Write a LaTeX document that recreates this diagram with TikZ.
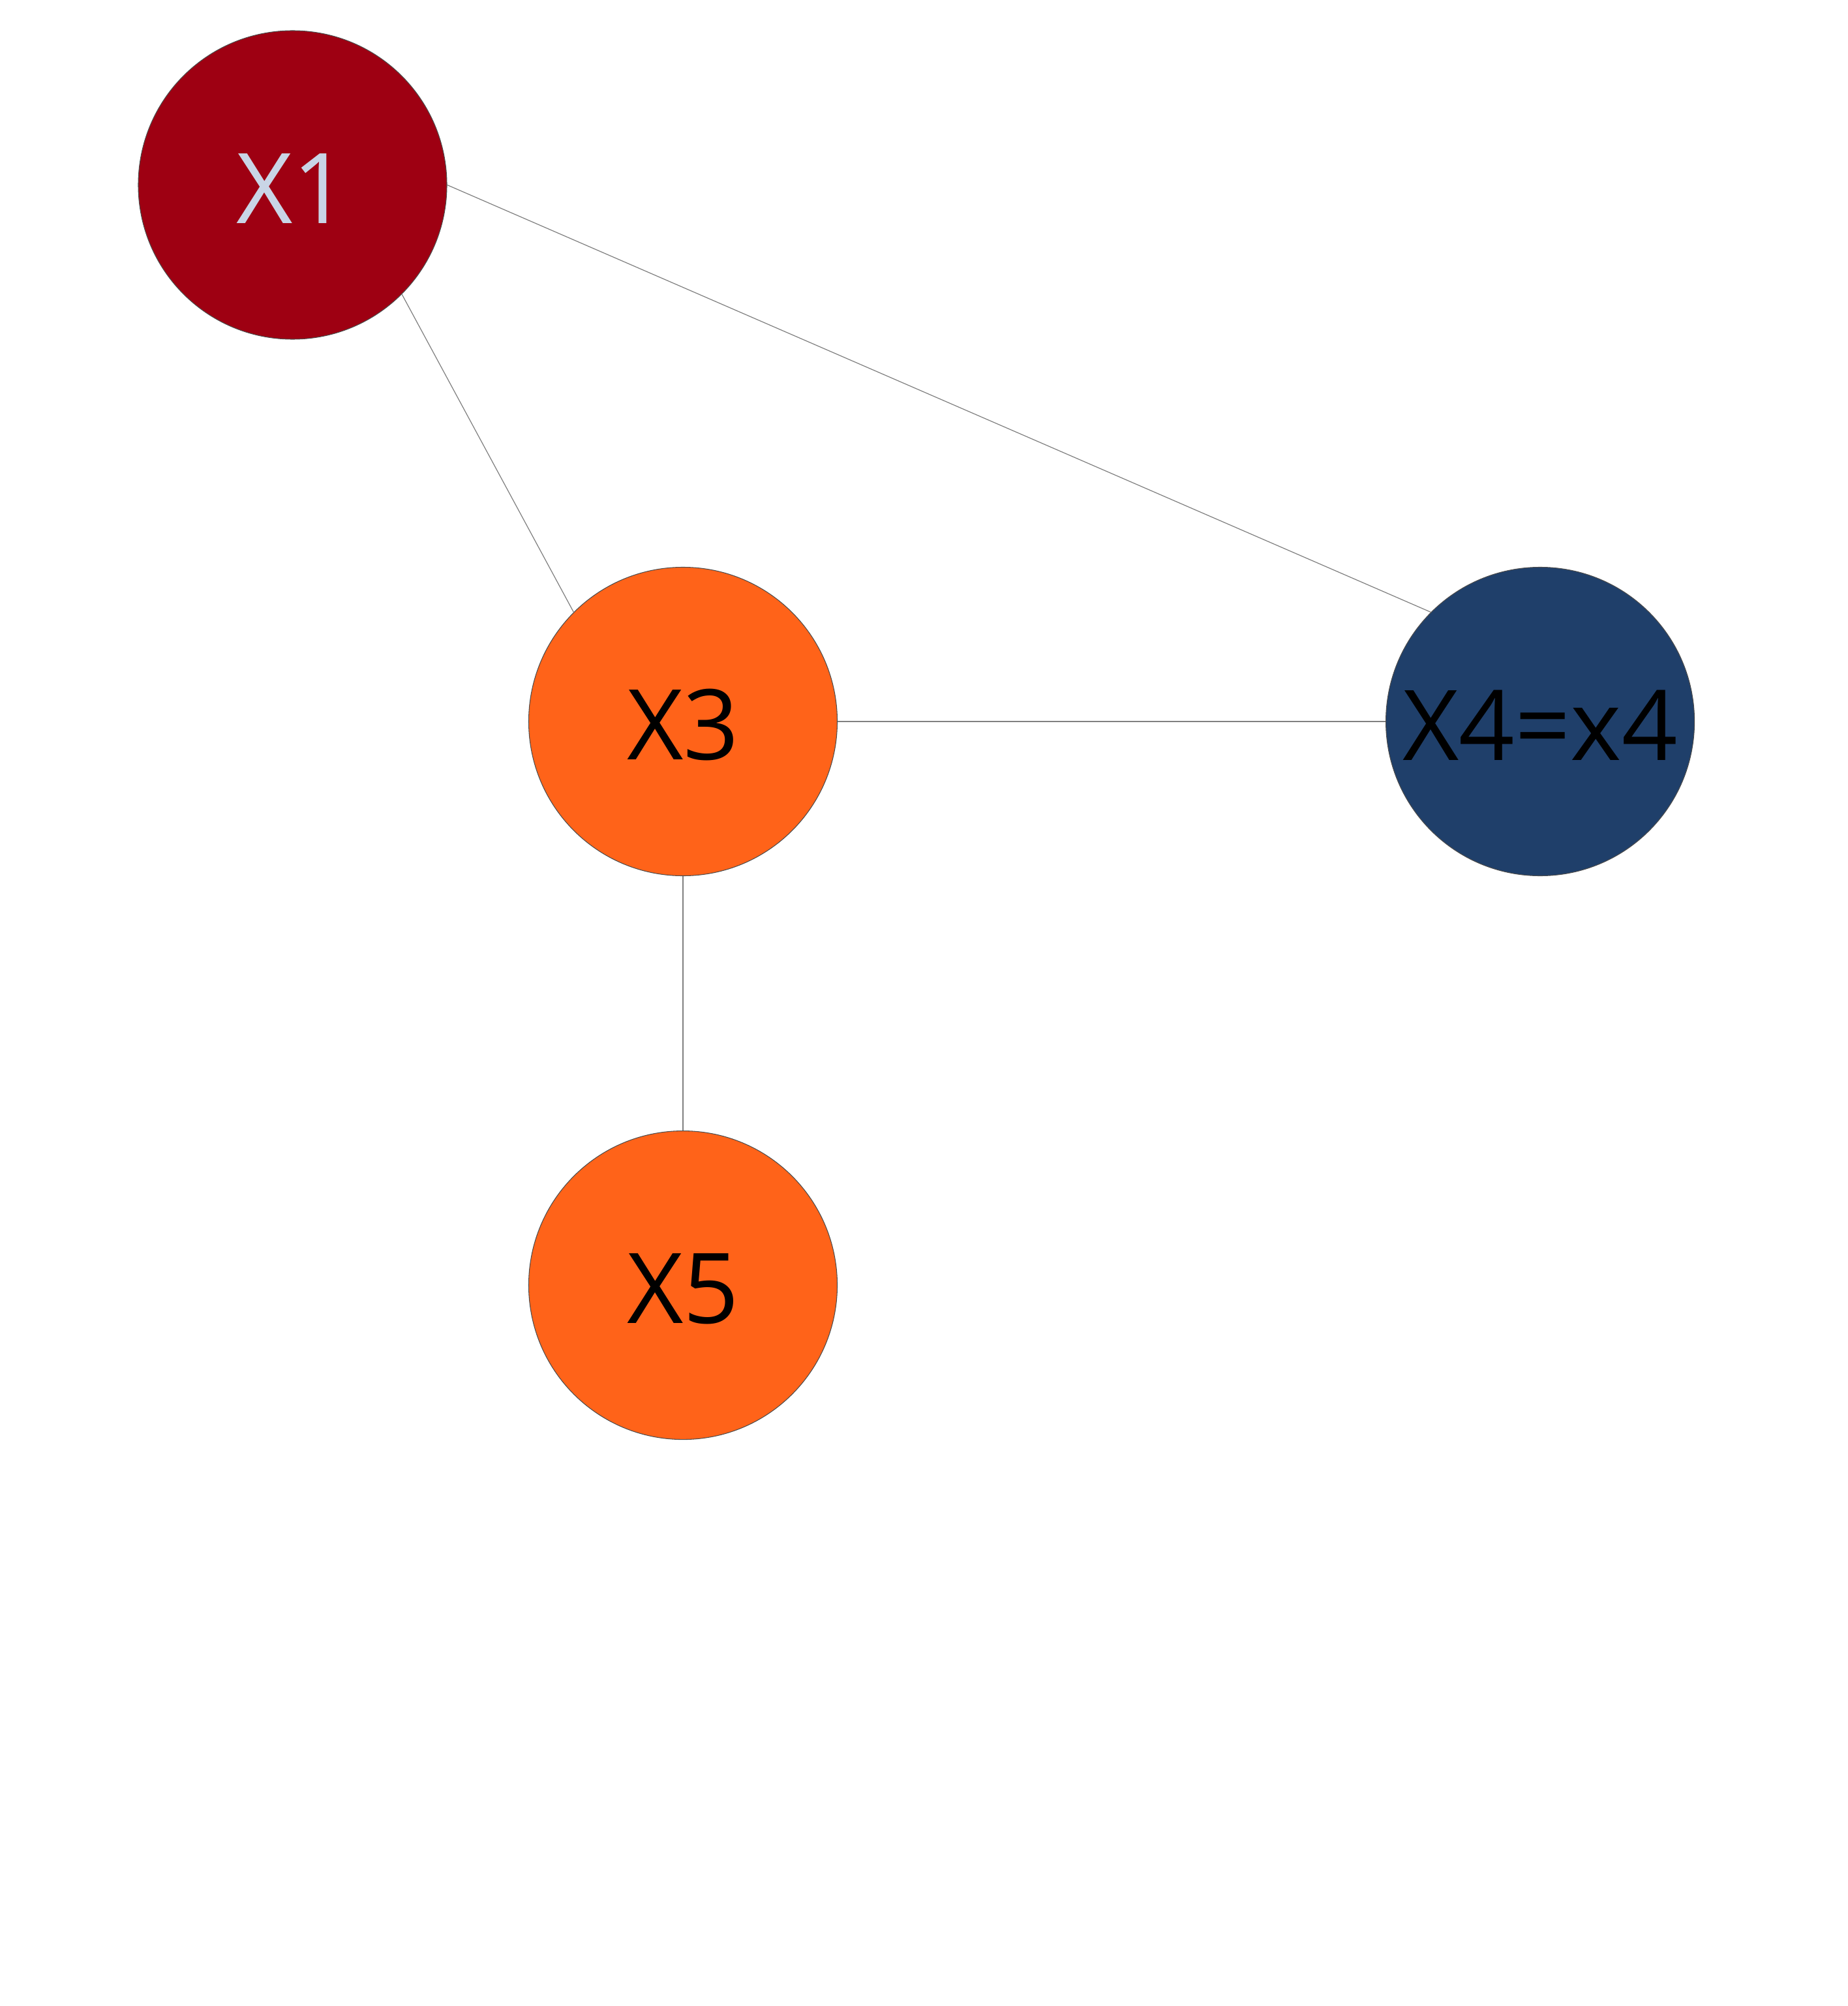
\documentclass[tikz,border=0pt]{standalone}
\usepackage{fontspec}
\setmainfont{Open Sans}
\usepackage{tikz}
\usetikzlibrary{positioning}

\definecolor{evidred}{HTML}{9E0012}
\definecolor{hiddenorange}{HTML}{FF6319}
\definecolor{obsblue}{HTML}{1F3F6A}
\definecolor{paletext}{HTML}{C9D5E6}

\begin{document}
\begin{tikzpicture}[
    node distance=3.9cm and 8.4cm,
    var/.style={circle, draw=black!70, line width=0.3pt, minimum size=4.73cm, inner sep=0pt, text height=1.18cm, font=\fontsize{42.6}{50}\selectfont},
    query/.style={var, fill=evidred, text=paletext},
    latent/.style={var, fill=hiddenorange, text=black},
    observed/.style={var, fill=obsblue, text=black},
    link/.style={draw=black!50, line width=0.35pt}
]
\useasboundingbox (0,0) rectangle (28.33,-30.75);

% Nodes
\node[query] (x1) at (4.485,-2.835) {X1};
\node[latent] (x3) at (10.47,-11.06) {X3};
\node[observed, right=of x3] (x4) {X4=x4};
\node[latent, below=of x3] (x5) {X5};

% Edges
\draw[link] (x1.east) -- (x4.north west);
\draw[link] (x1.south east) -- (x3.north west);
\draw[link] (x3.east) -- (x4.west);
\draw[link] (x3.south) -- (x5.north);

\end{tikzpicture}
\end{document}
